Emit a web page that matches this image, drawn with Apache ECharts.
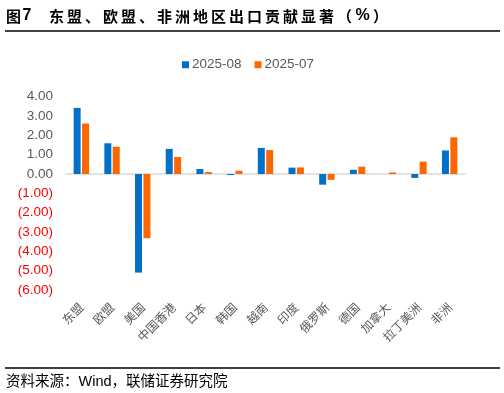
<!DOCTYPE html>
<html><head><meta charset="utf-8">
<script src="https://cdn.jsdelivr.net/npm/echarts@6/dist/echarts.min.js"></script>
<style>html,body{margin:0;padding:0;background:#fff}#c{width:504px;height:393px}</style>
</head><body><div id="c"></div>
<script>
const categories = ['东盟','欧盟','美国','中国香港','日本','韩国','越南','印度','俄罗斯','德国','加拿大','拉丁美洲','非洲'];
const seriesNames = ['2025-08','2025-07'];
const aug = [3.42, 1.59, -5.10, 1.30, 0.26, -0.05, 1.35, 0.33, -0.55, 0.22, 0.00, -0.20, 1.22];
const jul = [2.61, 1.41, -3.32, 0.88, 0.10, 0.17, 1.24, 0.34, -0.30, 0.38, 0.08, 0.64, 1.90];
const yTicks = {min: -6, max: 4, interval: 1};
const titleLead = '图7';
const titleText = '东盟、欧盟、非洲地区出口贡献显著（%）';
const sourceText = '资料来源：Wind，联储证券研究院';

const FONT = '"Liberation Sans", "Noto Sans CJK SC", sans-serif';
const TFONT = 'bold 15px "Noto Sans CJK SC", sans-serif';
const LFONT = 'bold 16px "Liberation Sans", sans-serif';

// title drawn per character to reproduce the wide letter spacing
const graphics = [];
const tchar = (ch, cx, font) => ({type: 'text', x: cx, y: 16,
  style: {text: ch, font: font, fill: '#000', align: 'center', verticalAlign: 'middle'}});
graphics.push(tchar(titleLead[0], 13.5, TFONT));
graphics.push(tchar(titleLead[1], 27, LFONT));
Array.from(titleText).forEach((ch, i) => {
  graphics.push(tchar(ch, 49 + i * 18 + 7.5, ch === '%' ? LFONT : TFONT));
});
graphics.push({type: 'line', shape: {x1: 5, y1: 31, x2: 500, y2: 31}, style: {stroke: '#000', lineWidth: 1.3}});
graphics.push({type: 'line', shape: {x1: 5, y1: 368, x2: 500, y2: 368}, style: {stroke: '#000', lineWidth: 1.3}});
graphics.push({type: 'text', x: 6, y: 381.5, style: {text: sourceText, font: '14.5px "Liberation Sans", "Noto Sans CJK SC", sans-serif', fill: '#000', verticalAlign: 'middle'}});

const chart = echarts.init(document.getElementById('c'), null, {renderer: 'canvas'});
chart.setOption({
  animation: false,
  backgroundColor: '#fff',
  graphic: graphics,
  legend: {
    data: seriesNames,
    top: 53, left: 177,
    itemWidth: 7, itemHeight: 7, itemGap: 13,
    icon: 'rect',
    textStyle: {fontFamily: FONT, fontSize: 13.5, color: '#595959', padding: [0,0,0,-2]}
  },
  grid: {left: 66, right: 39, top: 96.7, bottom: 103, containLabel: false},
  xAxis: [
    {
      type: 'category', data: categories, position: 'bottom',
      axisLine: {show: false, onZero: false}, axisTick: {show: false},
      axisLabel: {interval: 0, rotate: 45, margin: 15, fontSize: 12, color: '#595959', fontFamily: '"Noto Sans CJK SC", sans-serif'}
    },
    {
      type: 'category', data: categories, position: 'bottom',
      axisLine: {show: true, onZero: true, lineStyle: {color: '#D9D9D9', width: 1.5}},
      axisTick: {show: false}, axisLabel: {show: false}
    }
  ],
  yAxis: {
    type: 'value', min: yTicks.min, max: yTicks.max, interval: yTicks.interval,
    axisLine: {show: false}, axisTick: {show: false}, splitLine: {show: false},
    axisLabel: {
      margin: 13, fontFamily: FONT, fontSize: 13.5,
      formatter: v => v < 0 ? '{n|(' + (-v).toFixed(2) + ')}' : '{p|' + v.toFixed(2) + '}',
      rich: {
        n: {color: '#FF0000', fontSize: 13.5, fontFamily: FONT},
        p: {color: '#595959', fontSize: 13.5, fontFamily: FONT}
      }
    }
  },
  series: [
    {name: seriesNames[0], type: 'bar', data: aug, barWidth: 7, barGap: '20%', itemStyle: {color: '#0070C8'}},
    {name: seriesNames[1], type: 'bar', data: jul, barWidth: 7, barGap: '20%', itemStyle: {color: '#FF6600'}}
  ]
});
</script></body></html>
